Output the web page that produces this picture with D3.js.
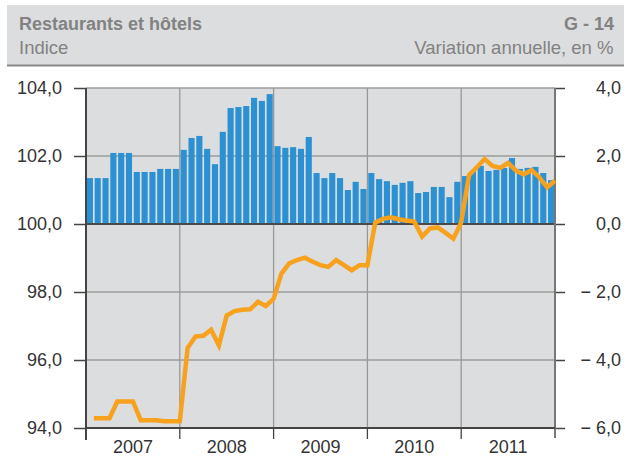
<!DOCTYPE html>
<html><head><meta charset="utf-8">
<script src="https://cdn.jsdelivr.net/npm/d3@7"></script>
<style>
html,body{margin:0;padding:0;background:#fff;}
svg{display:block;font-family:"Liberation Sans",Arial,sans-serif;}
</style></head>
<body>
<svg id="c" width="635" height="459"></svg>
<script>
const years = ["2007","2008","2009","2010","2011"];
// Annual variation, % (bars, right axis)
const variation = [
  1.35,1.35,1.35,2.09,2.09,2.09,1.53,1.53,1.53,1.62,1.62,1.62,
  2.18,2.53,2.59,2.21,1.76,2.71,3.41,3.44,3.47,3.71,3.62,3.82,
  2.29,2.24,2.26,2.21,2.56,1.50,1.35,1.50,1.35,1.00,1.24,1.03,
  1.50,1.32,1.26,1.15,1.21,1.26,0.91,0.94,1.09,1.09,0.79,1.24,
  1.41,1.55,1.71,1.56,1.59,1.65,1.94,1.62,1.65,1.68,1.50,1.29
];
// Index (line, left axis)
const index = [
  94.29,94.29,94.29,94.78,94.78,94.78,94.23,94.23,94.23,94.20,94.20,94.20,
  96.35,96.69,96.71,96.89,96.43,97.31,97.44,97.48,97.49,97.71,97.59,97.80,
  98.54,98.84,98.94,99.01,98.89,98.79,98.74,98.94,98.79,98.64,98.79,98.79,
  100.04,100.15,100.20,100.14,100.10,100.07,99.63,99.87,99.90,99.74,99.57,100.05,
  101.44,101.67,101.91,101.71,101.65,101.80,101.57,101.46,101.59,101.37,101.08,101.27
];
const leftTicks = [94,96,98,100,102,104];
const rightTicks = [-6,-4,-2,0,2,4];
const title = "Restaurants et hôtels";
const code = "G - 14";
const leftUnit = "Indice";
const rightUnit = "Variation annuelle, en %";

const svg = d3.select("#c");
const X0 = 86, X1 = 555, Y0 = 88, Y1 = 428;
const n = variation.length;

// header
svg.append("rect").attr("x",7).attr("y",5).attr("width",617).attr("height",60).attr("fill","#dcdddf");
svg.append("line").attr("x1",7).attr("x2",624).attr("y1",65.5).attr("y2",65.5).attr("stroke","#8a8a8a").attr("stroke-width",2);
const hc = "#828282";
svg.append("text").attr("x",19).attr("y",30).attr("font-size",18).attr("font-weight","bold").attr("fill",hc).text(title);
svg.append("text").attr("x",614).attr("y",30).attr("font-size",18).attr("font-weight","bold").attr("fill",hc).attr("text-anchor","end").text(code);
svg.append("text").attr("x",19).attr("y",54).attr("font-size",18.5).attr("fill",hc).text(leftUnit);
svg.append("text").attr("x",613.5).attr("y",54).attr("font-size",18.5).attr("fill",hc).attr("text-anchor","end").text(rightUnit);

// scales
const yL = d3.scaleLinear().domain([94,104]).range([Y1,Y0]);
const yR = d3.scaleLinear().domain([-6,4]).range([Y1,Y0]);
const xb = d3.scaleBand().domain(d3.range(n)).range([X0,X1]).paddingInner(0.22).paddingOuter(0.11);
const xl = d3.scaleLinear().domain([0,n]).range([X0,X1]);
const xy = d3.scaleBand().domain(years).range([X0,X1]);

// plot background
svg.append("rect").attr("x",X0).attr("y",Y0).attr("width",X1-X0).attr("height",Y1-Y0).attr("fill","#dcdddf");

// horizontal grid
svg.append("g").selectAll("line").data(leftTicks.filter(d=>d!==100 && d!==94)).join("line")
  .attr("x1",X0).attr("x2",X1).attr("y1",d=>yL(d)).attr("y2",d=>yL(d))
  .attr("stroke","#9b9b9b").attr("stroke-width",1.5);
// vertical grid
svg.append("g").selectAll("line").data(years.slice(1)).join("line")
  .attr("x1",d=>xy(d)).attr("x2",d=>xy(d)).attr("y1",Y0).attr("y2",Y1)
  .attr("stroke","#999").attr("stroke-width",1.3);

// bars
svg.append("g").selectAll("rect").data(variation).join("rect")
  .attr("x",(d,i)=>xb(i)).attr("width",xb.bandwidth())
  .attr("y",d=>yR(Math.max(0,d))).attr("height",d=>Math.abs(yR(d)-yR(0)))
  .attr("fill","#2b91d3");

// zero line
svg.append("line").attr("x1",X0).attr("x2",X1).attr("y1",yL(100)).attr("y2",yL(100)).attr("stroke","#4a4a4a").attr("stroke-width",2);

// left axis
const axL = d3.axisLeft(yL).tickValues(leftTicks).tickSize(12).tickPadding(12)
  .tickFormat(d=>d3.format(".1f")(d).replace(".",","));
const gL = svg.append("g").attr("transform",`translate(${X0},0)`).call(axL);
gL.select(".domain").remove();
gL.selectAll(".tick line").attr("stroke","#444").attr("stroke-width",1.5);
gL.selectAll(".tick text").attr("font-size",18).attr("fill","#333").attr("font-family","Liberation Sans, Arial, sans-serif");
svg.append("line").attr("x1",X0).attr("x2",X0).attr("y1",Y0).attr("y2",Y1+12).attr("stroke","#444").attr("stroke-width",2);

// right axis
const axR = d3.axisRight(yR).tickValues(rightTicks).tickSize(10).tickPadding(0)
  .tickFormat(d=> (d<0? "\u2212 " : "") + d3.format(".1f")(Math.abs(d)).replace(".",","));
const gR = svg.append("g").attr("transform",`translate(${X1},0)`).call(axR);
gR.select(".domain").remove();
gR.selectAll(".tick line").attr("stroke","#444").attr("stroke-width",1.5);
gR.selectAll(".tick text").attr("font-size",18).attr("fill","#333").attr("text-anchor","end").attr("x",66)
  .attr("font-family","Liberation Sans, Arial, sans-serif");
svg.append("line").attr("x1",X1).attr("x2",X1).attr("y1",Y0).attr("y2",Y1+10).attr("stroke","#777").attr("stroke-width",2);

// bottom axis
svg.append("line").attr("x1",X0).attr("x2",X1).attr("y1",Y1).attr("y2",Y1).attr("stroke","#444").attr("stroke-width",2);
svg.append("g").selectAll("line").data(years.slice(1)).join("line")
  .attr("x1",d=>xy(d)).attr("x2",d=>xy(d)).attr("y1",Y1).attr("y2",Y1+11)
  .attr("stroke","#444").attr("stroke-width",1.3);
svg.append("g").selectAll("text").data(years).join("text")
  .attr("x",d=>xy(d)+xy.bandwidth()/2).attr("y",452.5).attr("text-anchor","middle")
  .attr("font-size",18).attr("fill","#333").text(d=>d);

// line
const line = d3.line().x((d,i)=>xl(i+1)).y(d=>yL(d));
svg.append("path").datum(index).attr("d",line).attr("fill","none")
  .attr("stroke","#f7a11c").attr("stroke-width",4.5).attr("stroke-linejoin","miter");
</script>
</body></html>
